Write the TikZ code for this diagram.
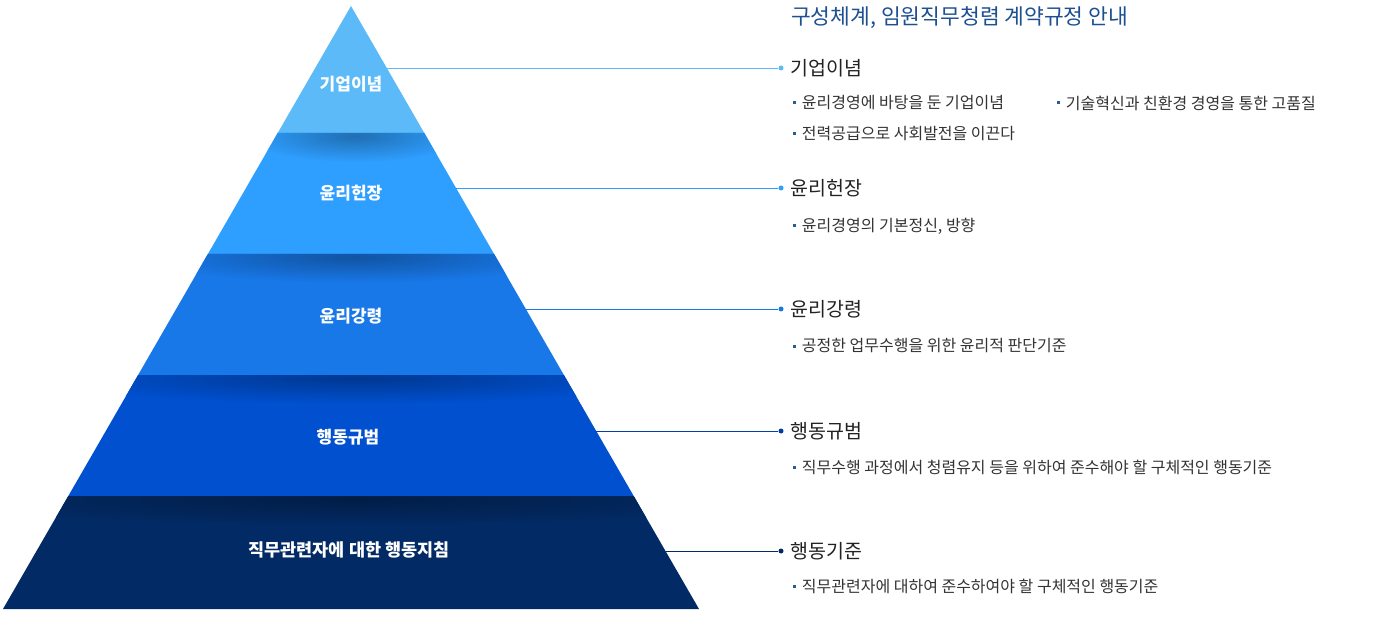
\documentclass[tikz,border=0pt]{standalone}
\usepackage{fontspec}
\setmainfont{Noto Sans CJK KR}
\usepackage{xcolor}
\usetikzlibrary{positioning}

\definecolor{lvlone}{HTML}{5CBAF8}
\definecolor{lvltwo}{HTML}{2E9EFF}
\definecolor{lvlthree}{HTML}{1878E8}
\definecolor{lvlfour}{HTML}{0050D0}
\definecolor{lvlfive}{HTML}{022A64}
\definecolor{titleblue}{HTML}{1D4F91}
\definecolor{headtext}{HTML}{222222}
\definecolor{itemtext}{HTML}{333333}
\definecolor{bulletblue}{HTML}{2A5C9A}

\begin{document}
\begin{tikzpicture}[
    x=1pt,
    y=-1pt
]

\tikzstyle{layer label}=[
    text=white,
    inner sep=0pt,
    font=\fontsize{17}{20}\selectfont\bfseries
]
\tikzstyle{heading}=[
    anchor=west,
    inner sep=0pt,
    text=headtext,
    font=\fontsize{19.5}{23}\selectfont
]
\tikzstyle{item}=[
    anchor=west,
    inner sep=0pt,
    text=itemtext,
    font=\fontsize{16}{19}\selectfont
]
\tikzstyle{bullet}=[
    rectangle,
    fill=bulletblue,
    inner sep=0pt,
    minimum size=3pt
]
\tikzstyle{dot}=[
    circle,
    inner sep=0pt,
    minimum size=5pt
]

\useasboundingbox (0,0) rectangle (1400,620);

% corners of the pyramid
\coordinate (top) at (351,6);
\coordinate (l1) at (277.7,133);
\coordinate (r1) at (424.3,133);
\coordinate (l2) at (207.9,254);
\coordinate (r2) at (494.1,254);
\coordinate (l3) at (138.1,375);
\coordinate (r3) at (563.9,375);
\coordinate (l4) at (68.3,496);
\coordinate (r4) at (633.7,496);
\coordinate (l5) at (3,609);
\coordinate (r5) at (699,609);

\fill[lvlone] (top) -- (r1) -- (l1) -- cycle;

\foreach \a/\b/\c/\d/\yb/\w/\col in {
    l1/r1/r2/l2/133/147/lvltwo,
    l2/r2/r3/l3/254/286/lvlthree,
    l3/r3/r4/l4/375/426/lvlfour,
    l4/r4/r5/l5/496/565/lvlfive}
{
    \fill[\col] (\a) -- (\b) -- (\c) -- (\d) -- cycle;
    \begin{scope}
        \clip (\a) -- (\b) -- (\c) -- (\d) -- cycle;
        \shade[inner color=black!30!\col, outer color=\col]
            (355,\yb+3) ellipse [x radius=0.75*\w, y radius=26];
    \end{scope}
}

\node[layer label] (p1) at (351,84) {기업이념};
\node[layer label] (p2) at (351,193) {윤리헌장};
\node[layer label] (p3) at (351,316) {윤리강령};
\node[layer label] (p4) at (348,437) {행동규범};
\node[layer label, font=\fontsize{17.5}{21}\selectfont\bfseries] (p5) at (349,550) {직무관련자에 대한 행동지침};

% title
\node[anchor=west, inner sep=0pt, text=titleblue, font=\fontsize{21.5}{26}\selectfont] (title) at (791,18) {구성체계, 임원직무청렴 계약규정 안내};

% connectors
\coordinate (e1) at (386.8,68);
\coordinate (e2) at (456,188);
\coordinate (e3) at (525.8,309);
\coordinate (e4) at (596.2,431);
\coordinate (e5) at (665.5,551);

\node[dot, fill=lvlone] (d1) at (781,68) {};
\node[dot, fill=lvltwo] (d2) at (781,188) {};
\node[dot, fill=lvlthree] (d3) at (781,309) {};
\node[dot, fill=lvlfour!80!black] (d4) at (781,431) {};
\node[dot, fill=lvlfive] (d5) at (781,551) {};

\draw[lvlone] (e1) -- (d1);
\draw[lvltwo] (e2) -- (d2);
\draw[lvlthree] (e3) -- (d3);
\draw[lvlfour!80!black] (e4) -- (d4);
\draw[lvlfive] (e5) -- (d5);

% headings
\node[heading] (h1) at (790,68) {기업이념};
\node[heading] (h2) at (790,188) {윤리헌장};
\node[heading] (h3) at (790,309) {윤리강령};
\node[heading] (h4) at (790,431) {행동규범};
\node[heading] (h5) at (790,551) {행동기준};

% items
\node[bullet] (b1) at (794,103) {};
\node[item, right=6pt of b1] (t1) {윤리경영에 바탕을 둔 기업이념};
\node[bullet] (b2) at (1058,103) {};
\node[item, right=6pt of b2] (t2) {기술혁신과 친환경 경영을 통한 고품질};
\node[bullet] (b3) at (794,134) {};
\node[item, right=6pt of b3] (t3) {전력공급으로 사회발전을 이끈다};
\node[bullet] (b4) at (794,226) {};
\node[item, right=6pt of b4] (t4) {윤리경영의 기본정신, 방향};
\node[bullet] (b5) at (794,346) {};
\node[item, right=6pt of b5] (t5) {공정한 업무수행을 위한 윤리적 판단기준};
\node[bullet] (b6) at (794,467) {};
\node[item, right=6pt of b6] (t6) {직무수행 과정에서 청렴유지 등을 위하여 준수해야 할 구체적인 행동기준};
\node[bullet] (b7) at (794,586) {};
\node[item, right=6pt of b7] (t7) {직무관련자에 대하여 준수하여야 할 구체적인 행동기준};

\end{tikzpicture}
\end{document}
